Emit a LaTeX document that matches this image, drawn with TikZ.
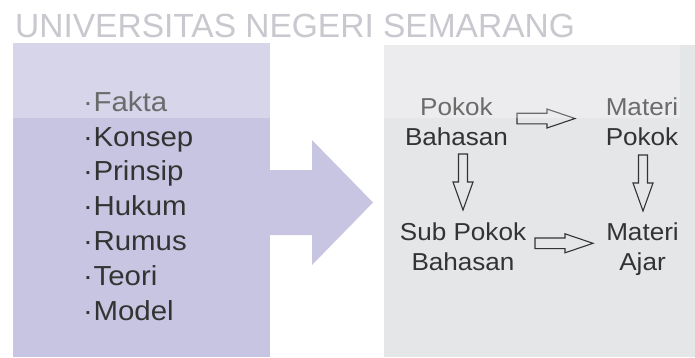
\documentclass[tikz,border=0pt]{standalone}
\usepackage{fontspec}
\setmainfont{Liberation Sans}
\definecolor{lav}{HTML}{C8C5E2}
\definecolor{panel}{HTML}{E5E6E8}
\definecolor{ink}{HTML}{333333}
\definecolor{wm}{HTML}{C8C8CE}
\begin{document}
\begin{tikzpicture}[x=1pt,y=-1pt,
  item/.style={anchor=base west, text=ink, font=\fontsize{27.5}{34.8}\selectfont, inner sep=0pt, xscale=1.07, transform shape},
  lbl/.style={align=center, text=ink, font=\fontsize{24.5}{30}\selectfont, inner sep=0pt, anchor=base, xscale=1.065, transform shape},
  outl/.style={draw=ink, line width=1.1pt, line join=miter},
  hblock/.pic={\draw[outl] (0,-5.3) -- (30,-5.3) -- (30,-9.5) -- (58,0) -- (30,9.5) -- (30,5.3) -- (0,5.3) -- cycle;},
  vblock/.pic={\draw[outl] (-4.5,0) -- (-4.5,28) -- (-10,28) -- (0,56) -- (10,28) -- (4.5,28) -- (4.5,0) -- cycle;}]
\useasboundingbox (0,0) rectangle (695,357);
\fill[white] (0,0) rectangle (695,357);
% left panel and big arrow
\fill[lav] (13,43) rectangle (270,357);
\fill[lav] (270,170) -- (312,170) -- (312,140) -- (373,202.5) -- (312,265) -- (312,235) -- (270,235) -- cycle;
% right panel
\fill[panel] (384,45) rectangle (695,357);
% list
\node[item] (fakta)   at (83,111.2) {·\kern0.5pt Fakta};
\node[item] (konsep)  at (83,146.0) {·\kern0.5pt Konsep};
\node[item] (prinsip) at (83,180.8) {·\kern0.5pt Prinsip};
\node[item] (hukum)   at (83,215.6) {·\kern0.5pt Hukum};
\node[item] (rumus)   at (83,250.4) {·\kern0.5pt Rumus};
\node[item] (teori)   at (83,285.2) {·\kern0.5pt Teori};
\node[item] (model)   at (83,320.0) {·\kern0.5pt Model};
% right labels (base = last line)
\node[lbl] (pb)  at (456.5,145) {Pokok\\Bahasan};
\node[lbl] (mp)  at (642,145)   {Materi\\Pokok};
\node[lbl] (spb) at (463,270)   {Sub Pokok\\Bahasan};
\node[lbl] (ma)  at (642.5,270) {Materi\\Ajar};
% block arrows
\pic at (517,118.5) {hblock};
\pic at (535,243.3) {hblock};
\pic at (463,154) {vblock};
\pic at (643,155) {vblock};
% light band and watermark
\fill[white,opacity=0.28] (0,0) rectangle (680,118);
\node[anchor=base west, text=wm, font=\fontsize{33.5}{40}\selectfont, inner sep=0pt] (wmk) at (15,37) {UNIVERSITAS NEGERI SEMARANG};
\end{tikzpicture}
\end{document}
